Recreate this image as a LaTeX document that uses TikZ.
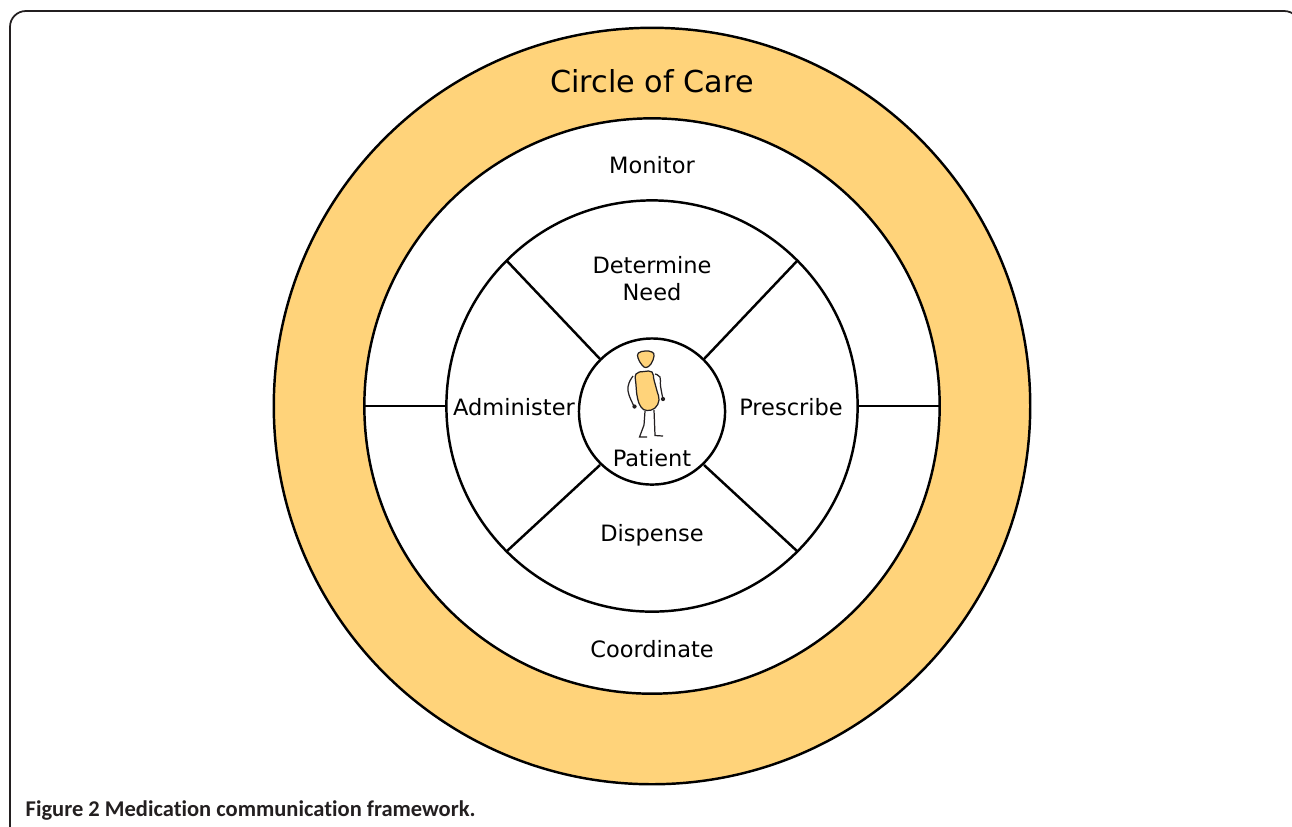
\documentclass[tikz,border=0pt]{standalone}
\usepackage{fontspec}
\setmainfont{DejaVu Sans}
\newfontfamily\capfont[Ligatures=NoCommon]{Carlito}
\definecolor{careorange}{HTML}{FFD37A}
\definecolor{inkgray}{HTML}{231F20}
\tikzset{
  ring/.style={draw=black,line width=0.7pt,circle,inner sep=0pt},
  spoke/.style={draw=black,line width=0.7pt},
  lbl/.style={font=\fontsize{6.4pt}{7.9pt}\selectfont,align=center,text=black},
  limb/.style={draw=inkgray,line width=0.35pt},
  dot/.style={fill=inkgray,circle,inner sep=0pt,minimum size=1.2pt}
}
\begin{document}
\begin{tikzpicture}[x=0.01cm,y=-0.01cm]
\useasboundingbox (0,0) rectangle (1292,826);
\clip (0,0) rectangle (1292,826);

% frame
\draw[line width=0.5pt,draw=inkgray,rounded corners=4.5pt] (10,840) -- (10,11) -- (1300,11) -- (1300,840);

% circles
\node[ring,fill=careorange,minimum size=7.56cm] (Care) at (652,406) {};
\node[ring,fill=white,minimum size=5.75cm] (Team) at (652,406) {};
\node[ring,fill=white,minimum size=4.11cm] (Tasks) at (652,406) {};
\node[ring,fill=white,minimum size=1.46cm] (Centre) at (652,411.5) {};

% spokes
\coordinate (TL) at (600,359);
\coordinate (TLo) at (507,261);
\coordinate (TR) at (704,359);
\coordinate (TRo) at (797,261);
\coordinate (BL) at (600,465);
\coordinate (BLo) at (507,551);
\coordinate (BR) at (704,465);
\coordinate (BRo) at (797,551);
\path[spoke] (TL) -- (TLo);
\path[spoke] (TR) -- (TRo);
\path[spoke] (BL) -- (BLo);
\path[spoke] (BR) -- (BRo);
\path[spoke] (Team.west) -- (Tasks.west);
\path[spoke] (Tasks.east) -- (Team.east);

% labels
\node[font=\fontsize{8.6pt}{10pt}\selectfont] (lblCare) at (652,81) {Circle of Care};
\node[lbl] (lblMon) at (652,165) {Monitor};
\node[lbl] (lblNeed) at (652,278.5) {Determine\\Need};
\node[lbl] (lblAdm) at (514,407) {Administer};
\node[lbl] (lblPre) at (791,407) {Prescribe};
\node[lbl] (lblDis) at (652,535) {Dispense};
\node[lbl] (lblCoo) at (652,649) {Coordinate};
\node[lbl] (lblPat) at (652,458) {Patient};

% patient
\draw[limb,fill=careorange] plot[smooth cycle,tension=0.7] coordinates {(638.5,353) (645,351) (652,352) (654,356) (651,364) (646,367.5) (642,365) (638,358)};
\draw[limb,fill=careorange] plot[smooth cycle,tension=0.7] coordinates {(636,374) (644,371.5) (652,372) (654,380) (657,391) (659,400) (655,408) (647,410.5) (641,407) (637.5,398) (636,385)};
\draw[limb] plot[smooth,tension=0.7] coordinates {(633,376) (629,383) (628,391) (631,400) (634,406)};
\draw[limb] plot[smooth,tension=0.7] coordinates {(655,374) (660,377) (660.5,386) (663,399)};
\node[dot] (HandL) at (634.5,406.5) {};
\node[dot] (HandR) at (663,399) {};
\draw[limb] (645,411) -- (644,425) -- (639.5,437) -- (647,437);
\draw[limb] (654,410) -- (655,435.5) -- (663,436);

% caption
\node[anchor=base west,inner sep=0pt,text=inkgray,font=\capfont\bfseries\fontsize{6.4pt}{7pt}\selectfont] (lblFig) at (25,816.5) {Figure 2 Medication communication framework.};
\end{tikzpicture}
\end{document}
